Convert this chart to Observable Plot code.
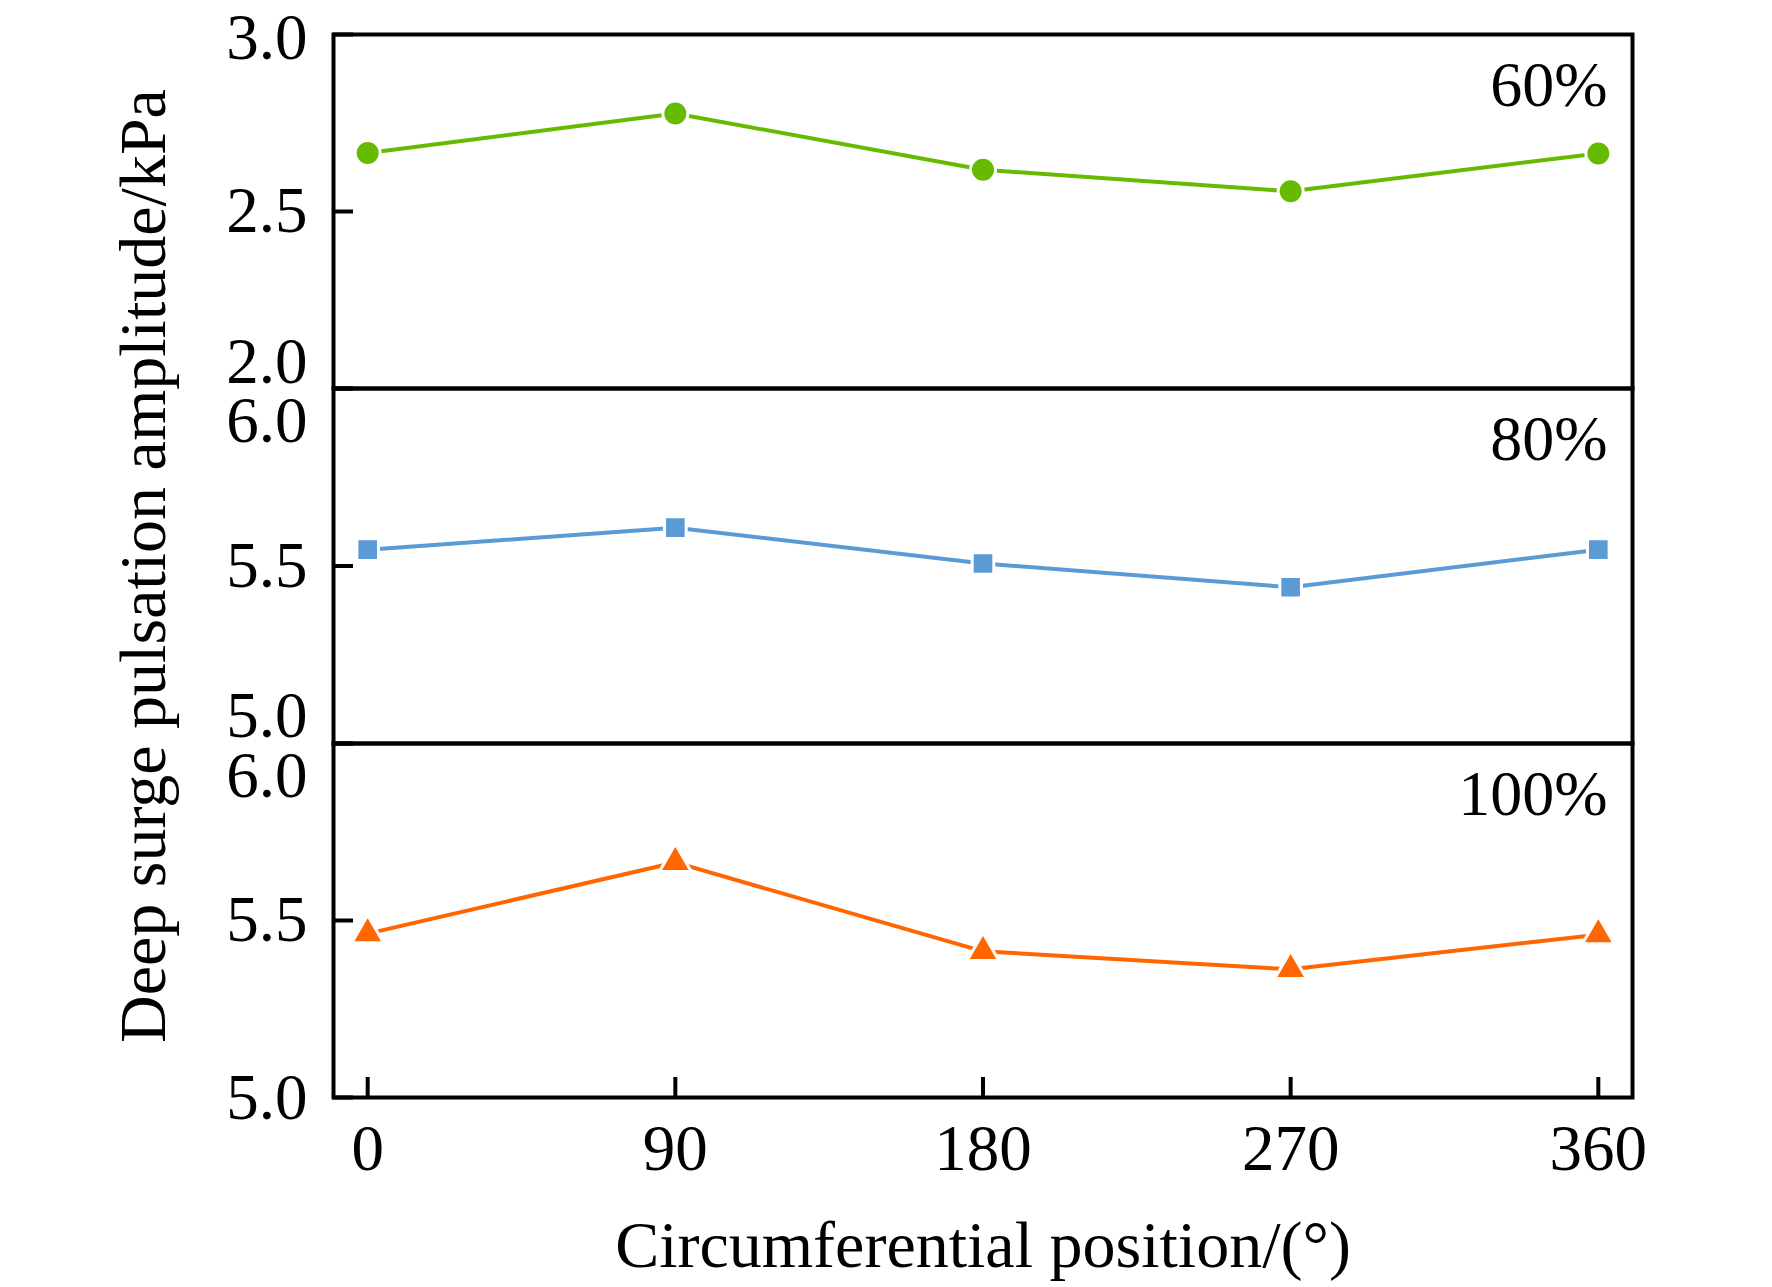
<!DOCTYPE html>
<html>
<head>
<meta charset="utf-8">
<script src="https://cdn.jsdelivr.net/npm/d3@7"></script>
<script src="https://cdn.jsdelivr.net/npm/@observablehq/plot@0.6"></script>
<style>
  html, body { margin: 0; padding: 0; background: #fff; }
  #chart { position: relative; width: 1772px; height: 1287px; overflow: hidden; }
  .panel { position: absolute; left: 0; }
</style>
</head>
<body>
<div id="chart"></div>
<script>
// ---- data ----
const positions = [0, 90, 180, 270, 360];
const amp60  = [2.665, 2.777, 2.618, 2.557, 2.664];
const amp80  = [5.546, 5.608, 5.507, 5.440, 5.546];
const amp100 = [5.463, 5.664, 5.413, 5.362, 5.460];
const panelLabels = ["60%", "80%", "100%"];
const xTicks = [0, 90, 180, 270, 360];
const yTicks60 = [2.0, 2.5, 3.0];
const yTicksHigh = [5.0, 5.5, 6.0];
const yDomain60 = [2, 3];
const yDomainHigh = [5, 6];
const xTitle = "Circumferential position/(°)";
const yTitle = "Deep surge pulsation amplitude/kPa";

// ---- layout / style ----
const W = 1772;
const mL = 333, mR = 140;
const font = "'Liberation Serif', 'Times New Roman', Times, serif";
const fmt = d3.format(".1f");

const panels = [
  {values: amp60,  label: panelLabels[0], color: "#66bb00", symbol: "circle",   r: 12.5,
   domain: yDomain60, ticks: yTicks60, tickDy: [-26, 0, 4],
   top: 0, height: 388, mT: 34, mB: 0},
  {values: amp80,  label: panelLabels[1], color: "#5b9bd5", symbol: "square",   r: 12.2,
   domain: yDomainHigh, ticks: yTicksHigh, tickDy: [-27, 0, 33],
   top: 388, height: 355, mT: 0, mB: 0},
  {values: amp100, label: panelLabels[2], color: "#ff6600", symbol: "triangle", r: 11.8,
   domain: yDomainHigh, ticks: yTicksHigh, tickDy: [1, 0, 33],
   top: 743, height: 544, mT: 0, mB: 190}
];

const chart = document.getElementById("chart");

panels.forEach((p, i) => {
  const data = positions.map((x, j) => ({x, y: p.values[j]}));
  const marks = [];

  // data
  marks.push(Plot.line(data, {x: "x", y: "y", stroke: p.color, strokeWidth: 4}));
  marks.push(Plot.dot(data, {x: "x", y: "y", symbol: p.symbol, r: p.r, fill: p.color,
                             stroke: "white", strokeWidth: 3}));

  // inward y ticks
  marks.push(Plot.axisY(p.ticks, {anchor: "left", tickSize: 20, dx: 20, strokeWidth: 4,
                                  tickFormat: () => "", label: null}));
  // y tick labels (individually offset as in the original)
  p.ticks.forEach((t, k) => {
    marks.push(Plot.axisY([t], {anchor: "left", tickSize: 0, tickPadding: 26, dy: p.tickDy[k],
                                tickFormat: fmt, label: null, fontSize: 65, fill: "black"}));
  });

  // panel label
  marks.push(Plot.text([p.label], {frameAnchor: "top-right", text: d => d, textAnchor: "end",
                                   lineAnchor: "top", dx: -25, dy: 26, fontSize: 64, fill: "black"}));

  if (i === 1) {
    marks.push(Plot.text([yTitle], {frameAnchor: "left", text: d => d, rotate: -90,
                                    textAnchor: "middle", lineAnchor: "top", dx: -215,
                                    fontSize: 66, fill: "black"}));
  }

  if (i === 2) {
    marks.push(Plot.axisX(xTicks, {anchor: "bottom", tickSize: 20, dy: -20, strokeWidth: 4,
                                   tickFormat: () => "", label: null}));
    marks.push(Plot.axisX(xTicks, {anchor: "bottom", tickSize: 0, tickPadding: 26,
                                   tickFormat: d => String(d), label: null, fontSize: 65, fill: "black"}));
    marks.push(Plot.text([xTitle], {frameAnchor: "bottom", text: d => d, textAnchor: "middle",
                                    lineAnchor: "top", dy: 123, fontSize: 66, fill: "black"}));
  }

  marks.push(Plot.frame({stroke: "black", strokeWidth: 4}));

  const svg = Plot.plot({
    width: W,
    height: p.height,
    marginLeft: mL,
    marginRight: mR,
    marginTop: p.mT,
    marginBottom: p.mB,
    x: {domain: [-10, 370], axis: null},
    y: {domain: p.domain, axis: null},
    style: {fontFamily: font, fontSize: "64px", overflow: "visible", background: "transparent", color: "black"},
    marks
  });

  const wrap = document.createElement("div");
  wrap.className = "panel";
  wrap.style.top = p.top + "px";
  wrap.appendChild(svg);
  chart.appendChild(wrap);
});
</script>
</body>
</html>
